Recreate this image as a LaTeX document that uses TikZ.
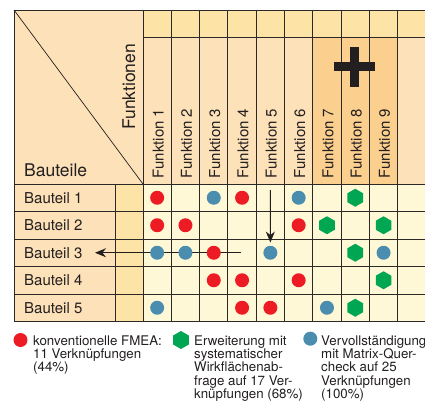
\documentclass[tikz,border=0pt]{standalone}
\usepackage{fontspec}
\setmainfont{TeX Gyre Heros}
\usepackage{xcolor}
\definecolor{headtan}{HTML}{FDE1B8}
\definecolor{headyellow}{HTML}{FDE3A6}
\definecolor{headorange}{HTML}{FBCF8E}
\definecolor{cellyellow}{HTML}{FFF8D6}
\definecolor{textdark}{HTML}{231F20}
\definecolor{gridline}{HTML}{2B2826}
\definecolor{fmeared}{HTML}{ED1C24}
\definecolor{extgreen}{HTML}{00A651}
\definecolor{checkblue}{HTML}{4A8DAF}
\usepackage{tikz}
\usetikzlibrary{shapes.geometric,arrows.meta}

\begin{document}
\begin{tikzpicture}[x=1pt, y=-1pt,
    grid/.style={draw=gridline, line width=0.9pt},
    arrow/.style={-{Stealth[length=11pt,width=9pt]}, draw=textdark, line width=1.1pt},
    dotred/.style={circle, fill=fmeared, inner sep=0pt, minimum size=14pt},
    dotblue/.style={circle, fill=checkblue, inner sep=0pt, minimum size=14pt},
    hexgreen/.style={regular polygon, regular polygon sides=6, shape border rotate=30, fill=extgreen, inner sep=0pt, minimum size=18pt},
    headlabel/.style={inner sep=0pt, text=textdark, font=\fontsize{17.5}{21}\selectfont},
    rowlabel/.style={anchor=base west, inner sep=0pt, text=textdark, font=\fontsize{15}{18}\selectfont},
    collabel/.style={rotate=90, anchor=base west, inner sep=0pt, text=textdark, font=\fontsize{15}{18}\selectfont},
    legtext/.style={anchor=north west, align=left, inner sep=0pt, text=textdark, font=\fontsize{13.3}{13.3}\selectfont}]
  \useasboundingbox (0,0) rectangle (425,401);
  \clip (0,0) rectangle (425,401);

  % backgrounds
  \fill[headtan] (14,10) rectangle (143,184);
  \fill[headyellow] (143,10) rectangle (430,37);
  \fill[headtan] (143,37) rectangle (430,184);
  \fill[headorange] (312.8,37) rectangle (397.7,184);
  \fill[headtan] (14,184) rectangle (115,321.5);
  \fill[headyellow] (115,184) rectangle (143,321.5);
  \fill[cellyellow] (143,184) rectangle (430,321.5);

  % grid
  \draw[grid] (14,10) -- (430,10);
  \draw[grid] (143,37) -- (430,37);
  \foreach \y in {184,211.5,239,266.5,294,321.5}
    \draw[grid] (14,\y) -- (430,\y);
  \draw[grid] (14,10) -- (14,321.5);
  \draw[grid] (115,184) -- (115,321.5);
  \foreach \i in {0,...,10}
    \draw[grid] ({143+28.3*\i},10) -- ++(0,311.5);
  \draw[textdark, line width=0.7pt] (14,10) -- (143,184);

  % headings
  \node[headlabel, anchor=base west] (bauteile) at (24,176) {Bauteile};
  \node[headlabel, rotate=90, anchor=base west] (funktionen) at (135,130) {Funktionen};
  \foreach \i in {1,...,9}
    \node[collabel] (f\i) at ({135.2+28.3*\i},178.5) {Funktion \i};
  \foreach \j in {1,...,5}
    \node[rowlabel] (b\j) at (24,{175.65+27.5*\j}) {Bauteil \j};

  % cell centres
  \foreach \j in {1,...,5}
    \foreach \i in {1,...,9}
      \coordinate (c\j\i) at ({128.85+28.3*\i},{170.25+27.5*\j});

  \coordinate (hstart) at (241,252.75);
  \coordinate (hend) at (95,252.75);
  \draw[arrow] (hstart) -- (hend);

  % Bauteil 1
  \node[dotred] (m11) at (c11) {};
  \node[dotblue] (m13) at (c13) {};
  \node[dotred] (m14) at (c14) {};
  \node[dotblue] (m16) at (c16) {};
  \node[hexgreen] (m18) at (c18) {};
  % Bauteil 2
  \node[dotred] (m21) at (c21) {};
  \node[dotred] (m22) at (c22) {};
  \node[dotred] (m26) at (c26) {};
  \node[hexgreen] (m27) at (c27) {};
  \node[hexgreen] (m29) at (c29) {};
  % Bauteil 3
  \node[dotblue] (m31) at (c31) {};
  \node[dotblue] (m32) at (c32) {};
  \node[dotred] (m33) at (c33) {};
  \node[dotblue] (m35) at (c35) {};
  \node[hexgreen] (m38) at (c38) {};
  \node[dotblue] (m39) at (c39) {};
  % Bauteil 4
  \node[dotred] (m43) at (c43) {};
  \node[dotred] (m44) at (c44) {};
  \node[dotred] (m46) at (c46) {};
  \node[hexgreen] (m49) at (c49) {};
  % Bauteil 5
  \node[dotblue] (m51) at (c51) {};
  \node[dotred] (m54) at (c54) {};
  \node[dotred] (m55) at (c55) {};
  \node[dotblue] (m57) at (c57) {};
  \node[hexgreen] (m58) at (c58) {};

  \coordinate (vstart) at (270.35,190);
  \draw[arrow, shorten >=3pt] (vstart) -- (m35);

  % plus
  \fill[textdark] (334,62) rectangle (375,71);
  \fill[textdark] (350,47) rectangle (359,87);

  % legend
  \node[dotred] (lred) at (20.5,340) {};
  \node[hexgreen] (lgreen) at (181,340) {};
  \node[dotblue] (lblue) at (310.3,338.7) {};
  \node[legtext] (tred) at (33,335.3) {konventionelle FMEA:\\11 Verknüpfungen\\(44\%)};
  \node[legtext] (tgreen) at (194,335.3) {Erweiterung mit\\systematischer\\Wirkflächenab-\\frage auf 17 Ver-\\knüpfungen (68\%)};
  \node[legtext] (tblue) at (321,335.3) {Vervollständigung\\mit Matrix-Quer-\\check auf 25\\Verknüpfungen\\(100\%)};
\end{tikzpicture}
\end{document}
